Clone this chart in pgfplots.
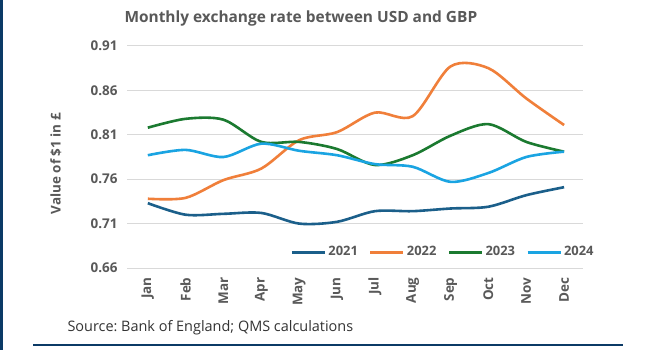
\documentclass[border=0pt]{standalone}
\usepackage{pgfplots}
\pgfplotsset{compat=1.18}
\usepackage{fontspec}
\setmainfont{Open Sans}
\frenchspacing
\definecolor{c21}{HTML}{1B5F8A}
\definecolor{c22}{HTML}{F07F3A}
\definecolor{c23}{HTML}{1B7A30}
\definecolor{c24}{HTML}{1AA4E2}
\definecolor{txt}{HTML}{595959}
\definecolor{frame}{HTML}{0B3A66}
\begin{document}
\begin{tikzpicture}[x=1bp,y=1bp]
\useasboundingbox (0,0) rectangle (653,350);
\fill[white] (0,0) rectangle (653,350);
\begin{axis}[
  at={(127bp,82bp)}, anchor=south west,
  scale only axis, width=456bp, height=222bp,
  xmin=0.45, xmax=12.5, ymin=0.66, ymax=0.91,
  axis line style={draw=none},
  ytick={0.66,0.71,0.76,0.81,0.86,0.91},
  yticklabel style={/pgf/number format/fixed,/pgf/number format/precision=2,
    /pgf/number format/fixed zerofill, font=\fontsize{13.5}{15}\selectfont\bfseries, text=txt},
  /pgf/number format/assume math mode=true,
  yticklabel={\pgfmathprintnumber{\tick}},
  yticklabel shift=6bp,
  xtick={1,...,12},
  xticklabels={Jan,Feb,Mar,Apr,May,Jun,Jul,Aug,Sep,Oct,Nov,Dec},
  xticklabel style={rotate=90, anchor=east, font=\fontsize{13.5}{15}\selectfont\bfseries, text=txt},
  xticklabel shift=6bp,
  xtick style={draw=none}, ytick style={draw=none},
  ymajorgrids, grid style={draw=black!15, line width=1bp},
  ylabel={Value of \$1 in £},
  ylabel style={font=\fontsize{13.5}{15}\selectfont\bfseries, text=txt, at={(-62bp,0.47)}},
  legend columns=4,
  legend style={draw=none, fill=none, at={(0.693,0.072)}, anchor=center,
    font=\fontsize{13}{15}\selectfont\bfseries, text=txt,
    /tikz/every even column/.append style={column sep=9bp}},
  legend image code/.code={\draw[#1, line width=3bp] (0,0) -- (33bp,0);},
  every axis plot/.append style={line width=2.6bp, smooth, tension=0.5, no marks},
]
\addplot[c21] coordinates {(1,0.733) (2,0.720) (3,0.721) (4,0.722) (5,0.710) (6,0.712) (7,0.724) (8,0.724) (9,0.727) (10,0.729) (11,0.742) (12,0.751)};
\addplot[c22] coordinates {(1,0.738) (2,0.739) (3,0.759) (4,0.772) (5,0.804) (6,0.813) (7,0.835) (8,0.831) (9,0.887) (10,0.885) (11,0.851) (12,0.821)};
\addplot[c23] coordinates {(1,0.818) (2,0.828) (3,0.827) (4,0.802) (5,0.802) (6,0.794) (7,0.776) (8,0.787) (9,0.809) (10,0.822) (11,0.802) (12,0.791)};
\addplot[c24] coordinates {(1,0.787) (2,0.793) (3,0.785) (4,0.800) (5,0.792) (6,0.787) (7,0.777) (8,0.774) (9,0.757) (10,0.767) (11,0.785) (12,0.791)};
\legend{2021,2022,2023,2024}
\end{axis}
\node[anchor=west, text=txt, font=\fontsize{15.5}{18}\selectfont\bfseries] at (121,332) {Monthly exchange rate between USD and GBP};
\node[anchor=west, text=black!80, font=\fontsize{14.5}{16}\selectfont] at (64,22) {Source: Bank of England; QMS calculations};
\fill[frame] (0,0) rectangle (3,350);
\fill[frame] (33,4) rectangle (623,6);
\end{tikzpicture}
\end{document}
